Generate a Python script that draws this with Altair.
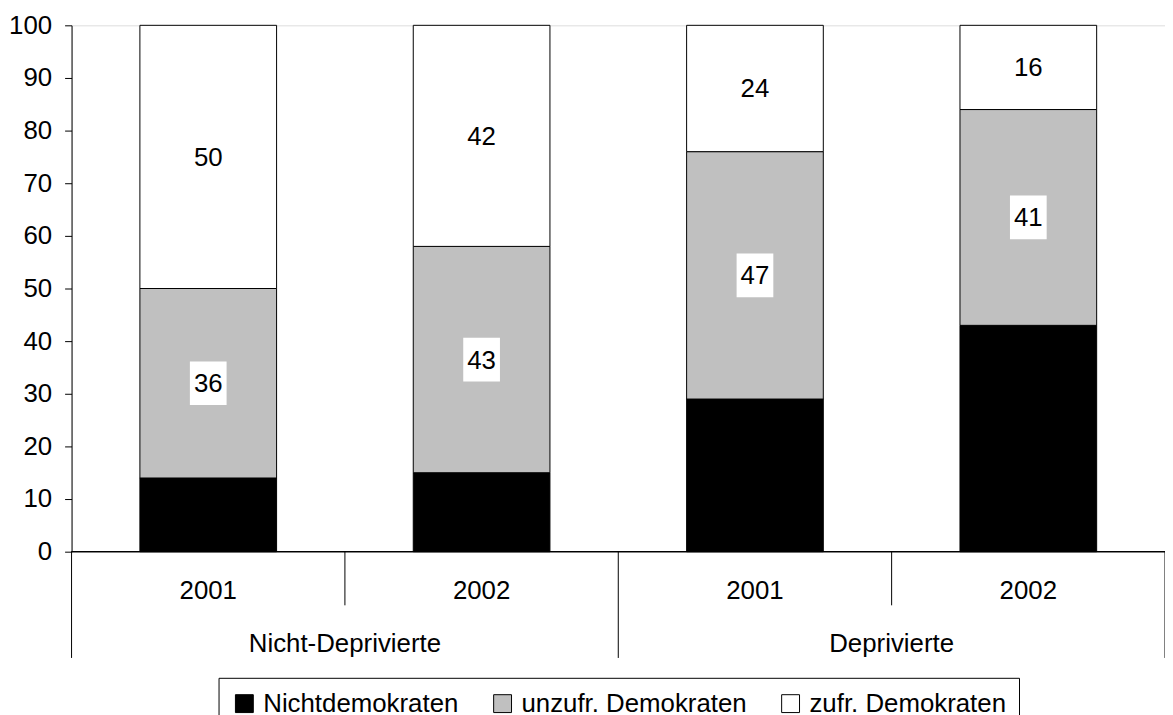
import altair as alt
import pandas as pd

# ---- data ----
groups = ["Nicht-Deprivierte", "Deprivierte"]
years = ["2001", "2002", "2001", "2002"]
series = ["Nichtdemokraten", "unzufr. Demokraten", "zufr. Demokraten"]
nichtdemokraten = [14, 15, 29, 43]
unzufr = [36, 43, 47, 41]
zufr = [50, 42, 24, 16]
colors = ["#000000", "#c0c0c0", "#ffffff"]
y_ticks = list(range(0, 101, 10))

FONT = "Liberation Sans"
FS = 26
W, H = 1101, 530

rows = []
for i in range(4):
    base = 0
    for s, vals in zip(series, [nichtdemokraten, unzufr, zufr]):
        v = vals[i]
        rows.append(dict(pos=i, x0=i + 0.25, x1=i + 0.75, xc=i + 0.5,
                         y0=base, y1=base + v, mid=base + v / 2,
                         lab=str(v), series=s))
        base += v
bars_df = pd.DataFrame(rows)
labels_df = bars_df[bars_df["series"] != series[0]]

xs = alt.Scale(domain=[0, 4], nice=False, zero=False)
ys = alt.Scale(domain=[0, 100], nice=False, zero=False)

bars = alt.Chart(bars_df).mark_bar(stroke="black", strokeWidth=1).encode(
    x=alt.X("x0:Q", scale=xs, axis=None),
    x2="x1:Q",
    y=alt.Y("y0:Q", scale=ys, axis=alt.Axis(
        values=y_ticks, title=None, grid=False, domain=True, domainColor="black",
        ticks=True, tickColor="black", tickSize=7, labelFont=FONT,
        labelFontSize=FS, labelColor="black", labelPadding=13)),
    y2="y1:Q",
    color=alt.Color("series:N", scale=alt.Scale(domain=series, range=colors),
                    sort=series,
                    legend=alt.Legend(
                        orient="none", legendX=148, legendY=657,
                        direction="horizontal", title=None,
                        symbolType="square", symbolSize=324,
                        symbolStrokeColor="black", symbolStrokeWidth=1,
                        symbolOpacity=1, labelLimit=0,
                        labelFont=FONT, labelFontSize=FS, labelColor="black",
                        labelOffset=6, columnPadding=31,
                        strokeColor="black", fillColor="white", padding=13)),
)

boxes = alt.Chart(labels_df).mark_point(
    shape="M-0.84,-1L0.84,-1L0.84,1L-0.84,1Z", filled=True,
    fill="white", opacity=1, size=44 * 44, strokeWidth=0
).encode(x=alt.X("xc:Q", scale=xs), y=alt.Y("mid:Q", scale=ys))

texts = alt.Chart(labels_df).mark_text(
    font=FONT, fontSize=FS, color="black", baseline="middle", align="center", dy=1
).encode(x=alt.X("xc:Q", scale=xs), y=alt.Y("mid:Q", scale=ys), text="lab:N")

year_df = pd.DataFrame({"xc": [i + 0.5 for i in range(4)], "year": years})
year_text = alt.Chart(year_df).mark_text(
    font=FONT, fontSize=FS, color="black", baseline="middle", align="center"
).encode(x=alt.X("xc:Q", scale=xs), y=alt.value(570), text="year:N")

grp_df = pd.DataFrame({"xc": [1.0, 3.0], "grp": groups})
grp_text = alt.Chart(grp_df).mark_text(
    font=FONT, fontSize=FS, color="black", baseline="middle", align="center"
).encode(x=alt.X("xc:Q", scale=xs), y=alt.value(623), text="grp:N")

short_df = pd.DataFrame({"xs": [1, 3]})
long_df = pd.DataFrame({"xs": [0, 2, 4]})
short_rules = alt.Chart(short_df).mark_rule(color="black", strokeWidth=1).encode(
    x=alt.X("xs:Q", scale=xs), y=alt.value(H), y2=alt.value(H + 54))
long_rules = alt.Chart(long_df).mark_rule(color="black", strokeWidth=1).encode(
    x=alt.X("xs:Q", scale=xs), y=alt.value(H), y2=alt.value(H + 107))
base_line = alt.Chart(long_df).mark_rule(color="black", strokeWidth=1).encode(
    x=alt.value(0), x2=alt.value(W), y=alt.value(H))

chart = alt.layer(
    bars, boxes, texts, base_line, short_rules, long_rules, year_text, grp_text
).properties(
    width=W, height=H,
    autosize=alt.AutoSizeParams(type="none"),
    padding={"left": 64, "top": 15, "right": 0, "bottom": 162},
).configure_view(stroke=None).configure(background="white")

chart.save("out.html", embed_options={"renderer": "svg", "actions": False})
